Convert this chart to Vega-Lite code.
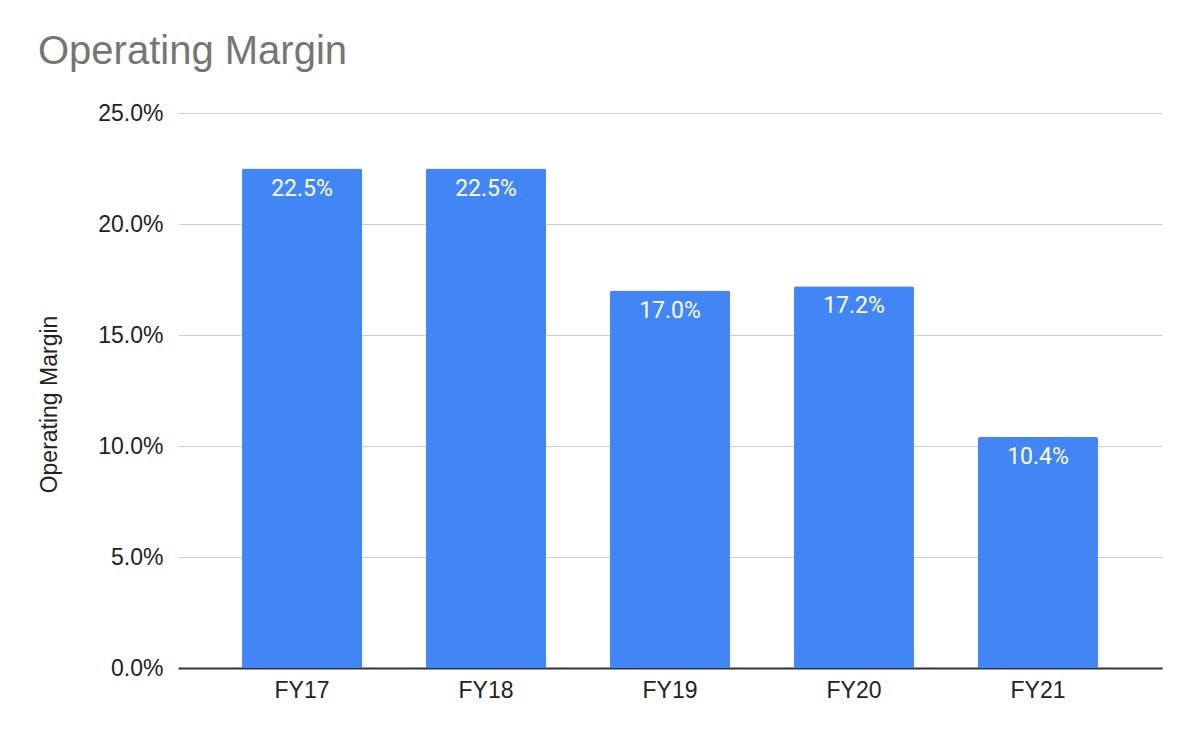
{
  "$schema": "https://vega.github.io/schema/vega-lite/v6.json",
  "autosize": {"type": "none"},
  "padding": {"left": 178, "top": 113, "right": 38, "bottom": 74},
  "width": 984,
  "height": 555,
  "background": "white",
  "title": {
    "text": "Operating Margin",
    "anchor": "start",
    "frame": "group",
    "font": "Liberation Sans",
    "fontSize": 40,
    "fontWeight": "normal",
    "color": "#757575",
    "dx": -140,
    "offset": 30
  },
  "data": {
    "values": [
      {"year": "FY17", "margin": 0.225},
      {"year": "FY18", "margin": 0.225},
      {"year": "FY19", "margin": 0.170},
      {"year": "FY20", "margin": 0.172},
      {"year": "FY21", "margin": 0.104}
    ]
  },
  "config": {
    "view": {"stroke": null},
    "axis": {"labelFont": "Liberation Sans", "titleFont": "Liberation Sans"}
  },
  "encoding": {
    "x": {
      "field": "year",
      "type": "nominal",
      "sort": null,
      "scale": {"paddingInner": 0.348, "paddingOuter": 0.348},
      "axis": {
        "title": null,
        "labelAngle": 0,
        "labelFontSize": 23,
        "labelColor": "#222222",
        "labelPadding": 11,
        "ticks": false,
        "domainColor": "#333333",
        "domainWidth": 2
      }
    },
    "y": {
      "field": "margin",
      "type": "quantitative",
      "scale": {"domain": [0, 0.25], "nice": false},
      "axis": {
        "title": "Operating Margin",
        "titleFontSize": 23,
        "titleFontWeight": "normal",
        "titleColor": "#222222",
        "titleX": -129,
        "titleY": 291,
        "titleAngle": -90,
        "titleAlign": "center",
        "titleBaseline": "middle",
        "values": [0, 0.05, 0.1, 0.15, 0.2, 0.25],
        "format": ".1%",
        "labelFontSize": 23,
        "labelColor": "#222222",
        "labelPadding": 15,
        "ticks": false,
        "domain": false,
        "gridColor": "#cccccc",
        "gridWidth": 1.2
      }
    }
  },
  "layer": [
    {
      "mark": {"type": "bar", "color": "#4285f4", "cornerRadiusTopLeft": 2, "cornerRadiusTopRight": 2}
    },
    {
      "mark": {"type": "text", "color": "white", "font": "Roboto", "fontSize": 23, "baseline": "middle", "dy": 20},
      "encoding": {
        "text": {"field": "margin", "type": "quantitative", "format": ".1%"}
      }
    }
  ]
}
